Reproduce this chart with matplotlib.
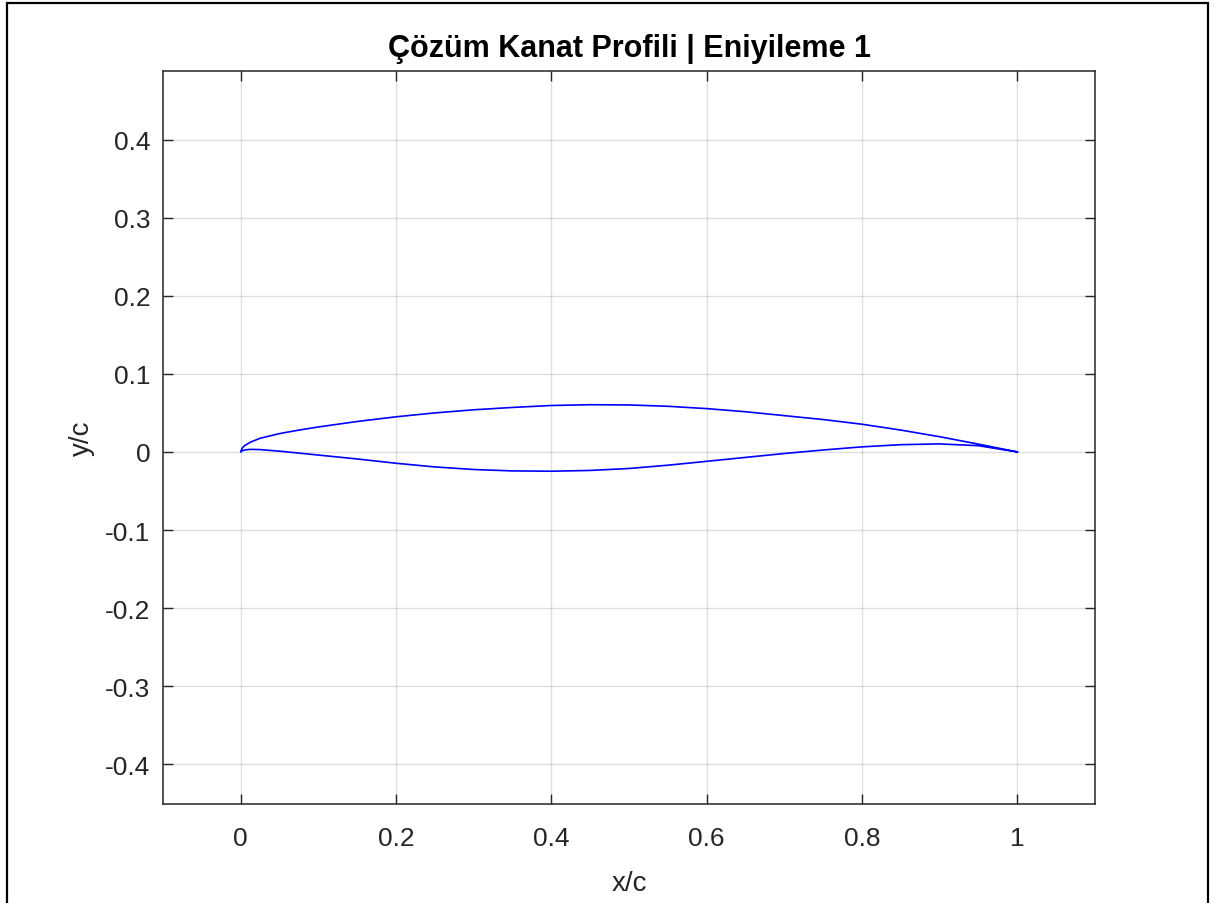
from matplotlib import pyplot as plt
from matplotlib.patches import Rectangle
import numpy as np

# airfoil coordinates
x_upper = [0.0, 0.002, 0.005, 0.0125, 0.025, 0.05, 0.075, 0.1, 0.15, 0.2, 0.25, 0.3,
           0.35, 0.4, 0.45, 0.5, 0.55, 0.6, 0.65, 0.7, 0.75, 0.8, 0.85, 0.9, 0.95, 1.0]
y_upper = [0.0, 0.005, 0.008, 0.0125, 0.0175, 0.0235, 0.028, 0.032, 0.039, 0.045, 0.050, 0.054,
           0.057, 0.0595, 0.0605, 0.0602, 0.0585, 0.0555, 0.0515, 0.0465, 0.0415, 0.0355,
           0.028, 0.0195, 0.010, 0.0]

x_lower = [0.0, 0.002, 0.005, 0.0125, 0.025, 0.05, 0.075, 0.1, 0.15, 0.2, 0.25, 0.3,
           0.35, 0.4, 0.45, 0.5, 0.55, 0.6, 0.65, 0.7, 0.75, 0.8, 0.85, 0.9, 0.95, 1.0]
y_lower = [0.0, 0.0015, 0.0025, 0.0033, 0.003, 0.001, -0.0015, -0.004, -0.009, -0.0145,
           -0.0192, -0.0225, -0.0243, -0.0247, -0.0237, -0.0212, -0.017, -0.012, -0.007,
           -0.002, 0.0025, 0.0065, 0.0093, 0.0103, 0.008, 0.0]

x_ticks = [0, 0.2, 0.4, 0.6, 0.8, 1]
x_ticklabels = ['0', '0.2', '0.4', '0.6', '0.8', '1']
y_ticks = [-0.4, -0.3, -0.2, -0.1, 0, 0.1, 0.2, 0.3, 0.4]
y_ticklabels = ['-0.4', '-0.3', '-0.2', '-0.1', '0', '0.1', '0.2', '0.3', '0.4']

plt.rcParams['font.family'] = ['Liberation Sans', 'DejaVu Sans']

fig = plt.figure(figsize=(12.14, 9.04), dpi=100)
ax = fig.add_axes([163 / 1214, 1 - 805 / 904, (1095 - 163) / 1214, (805 - 72) / 904])

# contour: upper surface TE->LE, then lower LE->TE
xs = x_upper[::-1] + x_lower[1:]
ys = y_upper[::-1] + y_lower[1:]
ax.plot(xs, ys, color='#0000ff', linewidth=1.2, solid_joinstyle='round')

ax.set_xlim(-0.1, 1.1)
ax.set_ylim(-0.451, 0.488)
ax.set_xticks(x_ticks)
ax.set_xticklabels(x_ticklabels)
ax.set_yticks(y_ticks)
ax.set_yticklabels(y_ticklabels)

ax.grid(True, color='#262626', alpha=0.15, linewidth=1.0)
ax.set_axisbelow(True)
for s in ax.spines.values():
    s.set_color('#262626')
    s.set_linewidth(1.1)
ax.tick_params(direction='in', length=7, width=1.0, color='#262626',
               labelsize=19, labelcolor='#262626', top=True, right=True, pad=9)
ax.tick_params(axis='x', pad=16)

ax.set_title('Çözüm Kanat Profili | Eniyileme 1', fontsize=22, fontweight='bold',
             color='black', pad=11)
ax.set_xlabel('x/c', fontsize=20, color='#262626', labelpad=14)
ax.set_ylabel('y/c', fontsize=20, color='#262626', labelpad=7)

# outer frame around the figure (bottom edge cut off in the original)
fig.patches.append(Rectangle((7 / 1214, -0.05), (1208 - 7) / 1214, 1.05 - 4 / 904,
                             transform=fig.transFigure, fill=False,
                             edgecolor='black', linewidth=1.6))

fig.savefig('out.png', dpi=100)
